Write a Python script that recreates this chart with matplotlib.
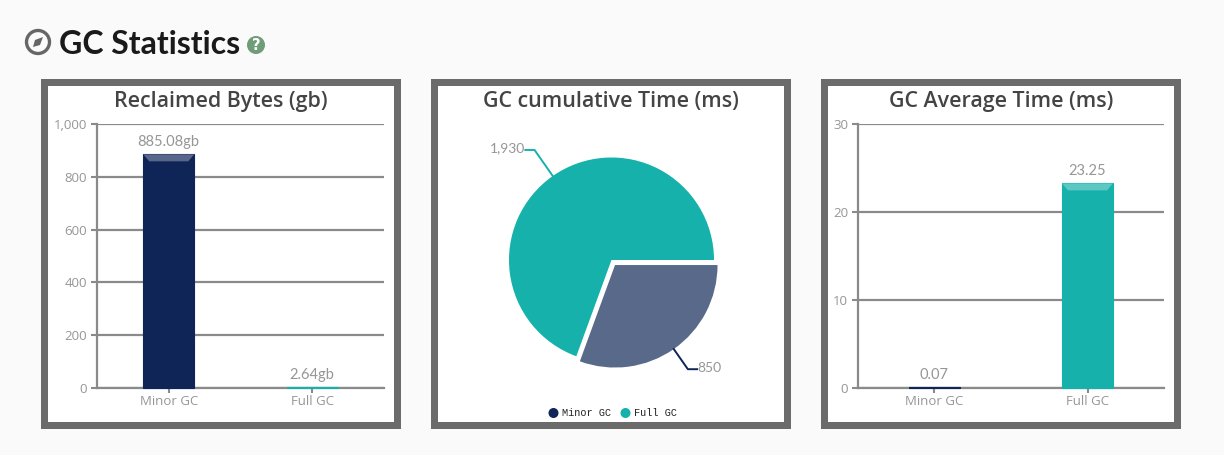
#GC Statistics - recreacion del panel con tres graficas
from matplotlib import pyplot as plt
from matplotlib.patches import Rectangle, Circle, Polygon
import numpy as np

W, H = 1224, 455

categories = ['Minor GC', 'Full GC']
reclaimed = [885.08, 2.64]
reclaimed_labels = ['885.08gb', '2.64gb']
cumulative = [850, 1930]
cumulative_labels = ['850', '1,930']
average = [0.07, 23.25]
average_labels = ['0.07', '23.25']
reclaimed_ticks = [0, 200, 400, 600, 800, 1000]
reclaimed_ticklabels = ['0', '200', '400', '600', '800', '1,000']
average_ticks = [0, 10, 20, 30]

NAVY = '#0f2557'
TEAL = '#16b1aa'
NAVY_PIE = '#59698a'
GRID = '#8a8a8a'
FRAME = '#6b6b6b'
TXT = '#969696'
TITLE = '#444444'
TITLE_FONT = 'Open Sans'
LABEL_FONT = 'Lato'


def px_axes(x0, y0, x1, y1):
    # pixeles de la imagen (y hacia abajo) a coordenadas de figura
    return fig.add_axes([x0 / W, 1 - y1 / H, (x1 - x0) / W, (y1 - y0) / H])


def mezcla(color, t):
    c = np.array(plt.matplotlib.colors.to_rgb(color))
    return tuple(c + (1 - c) * t)


fig = plt.figure(figsize=(W / 100, H / 100), dpi=100, facecolor='#fafafa')

#Capa de fondo en pixeles
bg = fig.add_axes([0, 0, 1, 1])
bg.set_xlim(0, W)
bg.set_ylim(H, 0)
bg.axis('off')

for x in [41, 431, 821]:
    bg.add_patch(Rectangle((x, 79), 360, 350, facecolor=FRAME, edgecolor='none'))
    bg.add_patch(Rectangle((x + 7, 86), 346, 336, facecolor='white', edgecolor='none'))

#Encabezado
bg.add_patch(Circle((38, 42), 11.5, facecolor='none', edgecolor='#666666', lw=2.4))
bg.add_patch(Polygon([[43, 37], [40, 45], [33, 47], [35, 40]], facecolor='#666666', edgecolor='none'))
bg.text(59, 45, 'GC Statistics', fontsize=23, fontweight='bold', family='Lato',
        color='#1a1a1a', va='center', ha='left')
bg.add_patch(Circle((256, 45), 9, facecolor='#6f9d78', edgecolor='none'))
bg.text(256, 45.5, '?', fontsize=10.5, fontweight='bold', family='DejaVu Sans',
        color='white', va='center', ha='center')

#Titulos
for xc, t in [(221, 'Reclaimed Bytes (gb)'), (611, 'GC cumulative Time (ms)'),
              (1001, 'GC Average Time (ms)')]:
    bg.text(xc, 101.5, t, fontsize=15.4, fontweight='semibold', family=TITLE_FONT,
            color=TITLE, ha='center', va='center')


def barras(box, values, labels, colors, ticks, ticklabels, ymax):
    ax = px_axes(*box)
    ax.patch.set_alpha(0)
    ax.set_xlim(0, len(values))
    ax.set_ylim(0, ymax)
    pos = np.arange(len(values)) + 0.5
    escala = len(values) / (box[2] - box[0])
    ancho = 51 * escala
    ax.yaxis.grid(True, color=GRID, lw=1.6)
    ax.set_axisbelow(True)
    ax.bar(pos, values, width=ancho, color=colors, edgecolor=colors, linewidth=0.8,
           zorder=3, clip_on=False)
    # bisel claro en la parte alta de cada barra
    alto = 7 * ymax / (box[3] - box[1])
    lado = 6 * escala
    for p, v, c in zip(pos, values, colors):
        if v > alto:
            ax.add_patch(Polygon([[p - ancho / 2, v], [p + ancho / 2, v],
                                  [p + ancho / 2 - lado, v - alto], [p - ancho / 2 + lado, v - alto]],
                                 facecolor=mezcla(c, 0.3), edgecolor='none', zorder=4))
    for p, v, l in zip(pos, values, labels):
        ax.annotate(l, (p, v), xytext=(0, 4), textcoords='offset points', ha='center', va='bottom',
                    fontsize=10.5, family=LABEL_FONT, color=TXT, zorder=5)
    for s in ['top', 'right']:
        ax.spines[s].set_visible(False)
    for s in ['left', 'bottom']:
        ax.spines[s].set_color(GRID)
        ax.spines[s].set_linewidth(1.6)
    ax.set_yticks(ticks)
    ax.set_yticklabels(ticklabels)
    ax.set_xticks(pos)
    ax.set_xticklabels(categories)
    ax.tick_params(axis='y', length=4, width=1.5, color=GRID, labelcolor=TXT, labelsize=9.5, pad=3)
    ax.tick_params(axis='x', length=3.5, width=1.5, color=GRID, labelcolor=TXT, labelsize=9.5, pad=1.5)
    for t in ax.get_xticklabels() + ax.get_yticklabels():
        t.set_family(TITLE_FONT)
    return ax


barras((97, 124, 384, 388), reclaimed, reclaimed_labels, [NAVY, TEAL],
       reclaimed_ticks, reclaimed_ticklabels, 1000)
barras((858, 124, 1164, 388), average, average_labels, [NAVY, TEAL],
       average_ticks, [str(t) for t in average_ticks], 30)

#Pastel: mismo eje en pixeles, radio 102.5 px
R = 102.5
cx, cy = 611.5, 260
ax = px_axes(cx - 1.5 * R, cy - 1.5 * R, cx + 1.5 * R, cy + 1.5 * R)
ax.patch.set_alpha(0)
ax.pie(cumulative, colors=[NAVY_PIE, TEAL], startangle=0, counterclock=False,
       explode=[0.06, 0], radius=1, wedgeprops={'linewidth': 0})
ax.set_xlim(-1.5, 1.5)
ax.set_ylim(-1.5, 1.5)

total = sum(cumulative)
inicio = 0
for v, l, c, e, f in zip(cumulative, cumulative_labels, [NAVY, TEAL], [0.06, 0], [1.24, 1.31]):
    # lineas guia calculadas desde el angulo medio de cada rebanada
    theta = np.deg2rad(inicio + 180 * v / total)
    inicio += 360 * v / total
    dx, dy = np.cos(theta), -np.sin(theta)
    ox, oy = e * dx, e * dy
    lado = 1 if dx > 0 else -1
    codo = (ox + f * dx, oy + f * dy)
    fin = (codo[0] + lado * 0.09, codo[1])
    ax.plot([ox + dx, codo[0], fin[0]], [oy + dy, codo[1], fin[1]], color=c, lw=1.4, clip_on=False)
    ax.text(fin[0] + lado * 0.005, fin[1] + 0.015, l, fontsize=10, family=LABEL_FONT, color=TXT,
            ha='left' if lado > 0 else 'right', va='center')

#Leyenda
bg.add_patch(Circle((553.5, 413), 5, facecolor=NAVY, edgecolor='none'))
bg.text(562, 413.5, categories[0], fontsize=7.4, family='Liberation Mono', color='#222222', va='center')
bg.add_patch(Circle((625.5, 413), 5, facecolor=TEAL, edgecolor='none'))
bg.text(634, 413.5, categories[1], fontsize=7.4, family='Liberation Mono', color='#222222', va='center')

plt.savefig('out.png', dpi=100, facecolor=fig.get_facecolor())
